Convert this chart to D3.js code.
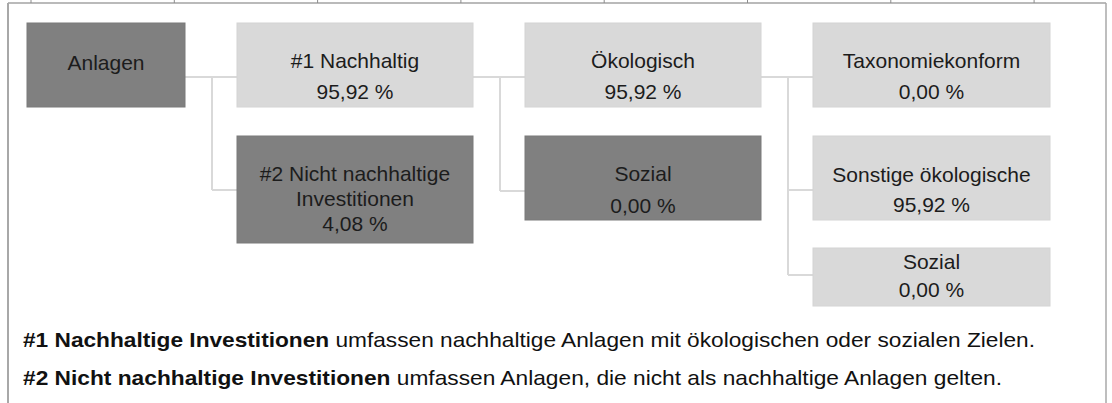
<!DOCTYPE html>
<html>
<head>
<meta charset="utf-8">
<script src="https://cdn.jsdelivr.net/npm/d3@7"></script>
<style>
  body { margin: 0; background: #fff; }
  text { font-family: "Liberation Sans", Arial, sans-serif; }
</style>
</head>
<body>
<div id="chart"></div>
<script>
(function() {
    var width = 1112;
    var height = 403;

    // data
    var nodeNames = ["Anlagen", "#1 Nachhaltig", "#2 Nicht nachhaltige|Investitionen", "Ökologisch", "Sozial",
                     "Taxonomiekonform", "Sonstige ökologische", "Sozial"];
    var nodeValues = [null, 95.92, 4.08, 95.92, 0.00, 0.00, 95.92, 0.00];
    var nodeParents = [-1, 0, 0, 1, 1, 3, 3, 3];
    var nodeColumns = [0, 1, 1, 2, 2, 3, 3, 3];
    var nodeRows = [0, 0, 1, 0, 1, 0, 1, 2];
    var nodeDark = [true, false, true, false, true, false, false, false];

    var noteTitles = ["#1 Nachhaltige Investitionen", "#2 Nicht nachhaltige Investitionen"];
    var noteTexts = [" umfassen nachhaltige Anlagen mit ökologischen oder sozialen Zielen.",
                     " umfassen Anlagen, die nicht als nachhaltige Anlagen gelten."];

    // layout
    var colWidths = [158, 236, 236, 237];
    var colGap = 52;
    var boxHeights = [84, 84, 107, 84, 84, 84, 84, 58];
    var firstBase = [47, 45, 45, 45, 45, 45, 46, 21];
    var lineGap = [0, 31, 25, 31, 32, 31, 30, 28];
    var linkOffset = [54, 54, 54, 54, 55, 54, 54, 27];
    var noteWidths = [1012, 979];

    var colX = [];
    colWidths.reduce(function(acc, w, i) { colX[i] = acc; return acc + w + colGap; }, 27);

    var rowY = d3.scaleLinear().domain([0, 2]).range([23, 248]);
    var fmt = d3.formatLocale({decimal: ",", thousands: ".", grouping: [3], currency: ["", "€"]}).format(".2f");

    var nodes = nodeNames.map(function(n, i) {
        var x = colX[nodeColumns[i]];
        var y = Math.round(rowY(nodeRows[i]));
        var lines = n.split("|");
        if (nodeValues[i] !== null) lines.push(fmt(nodeValues[i]) + " %");
        return {i: i, x: x, y: y, w: colWidths[nodeColumns[i]], h: boxHeights[i], lines: lines,
                dark: nodeDark[i], parent: nodeParents[i]};
    });

    var svg = d3.select("#chart").append("svg")
        .attr("width", width)
        .attr("height", height);

    // frame
    var frame = svg.append("g");
    frame.append("line").attr("x1", 8).attr("x2", 1106).attr("y1", 3).attr("y2", 3)
        .attr("stroke", "#a3a3a3").attr("stroke-width", 1.5);
    frame.append("line").attr("x1", 8).attr("x2", 8).attr("y1", 3).attr("y2", height)
        .attr("stroke", "#a8a8a8").attr("stroke-width", 2);
    frame.append("line").attr("x1", 1106).attr("x2", 1106).attr("y1", 3).attr("y2", height)
        .attr("stroke", "#a8a8a8").attr("stroke-width", 1.5);
    frame.selectAll(".tick").data(d3.range(8)).enter().append("line")
        .attr("x1", function(d) { return 31 + d * 143.3; })
        .attr("x2", function(d) { return 31 + d * 143.3; })
        .attr("y1", 0).attr("y2", 3)
        .attr("stroke", "#8c8c8c").attr("stroke-width", 1);

    // connectors
    var links = svg.append("g")
        .attr("fill", "none")
        .attr("stroke", "#d9d9d9")
        .attr("stroke-width", 2);

    nodes.forEach(function(p) {
        var kids = nodes.filter(function(c) { return c.parent === p.i; });
        if (!kids.length) return;
        var py = p.y + linkOffset[p.i];
        var right = p.x + p.w;
        var childLeft = kids[0].x;
        var ex = Math.round((right + childLeft) / 2) + 1;
        var lastY = d3.max(kids, function(c) { return c.y + linkOffset[c.i]; });
        links.append("line").attr("x1", right).attr("x2", childLeft).attr("y1", py).attr("y2", py);
        links.append("line").attr("x1", ex).attr("x2", ex).attr("y1", py).attr("y2", lastY);
        kids.forEach(function(c) {
            var cy = c.y + linkOffset[c.i];
            links.append("line").attr("x1", ex).attr("x2", c.x).attr("y1", cy).attr("y2", cy);
        });
    });

    // boxes
    var box = svg.selectAll(".box")
        .data(nodes)
        .enter().append("g")
        .attr("class", "box")
        .attr("transform", function(d) { return "translate(" + d.x + "," + d.y + ")"; });

    box.append("rect")
        .attr("width", function(d) { return d.w; })
        .attr("height", function(d) { return d.h; })
        .attr("fill", function(d) { return d.dark ? "#808080" : "#d9d9d9"; })
        .attr("stroke", function(d) { return d.dark ? "#7a7a7a" : "#d4d4d4"; })
        .attr("stroke-width", 1);

    box.each(function(d) {
        var g = d3.select(this);
        d.lines.forEach(function(t, k) {
            g.append("text")
                .attr("x", d.w / 2)
                .attr("y", firstBase[d.i] + k * lineGap[d.i])
                .attr("text-anchor", "middle")
                .attr("font-size", "21px")
                .attr("fill", "#1c1c1c")
                .text(t);
        });
    });

    // notes
    var notes = svg.selectAll(".note")
        .data(noteTitles)
        .enter().append("text")
        .attr("class", "note")
        .attr("x", 23)
        .attr("y", function(d, i) { return 347 + i * 38; })
        .attr("font-size", "21px")
        .attr("fill", "#111")
        .attr("textLength", function(d, i) { return noteWidths[i]; })
        .attr("lengthAdjust", "spacingAndGlyphs");

    notes.append("tspan").attr("font-weight", "bold").text(function(d) { return d; });
    notes.append("tspan").text(function(d, i) { return noteTexts[i]; });
})();
</script>
</body>
</html>
